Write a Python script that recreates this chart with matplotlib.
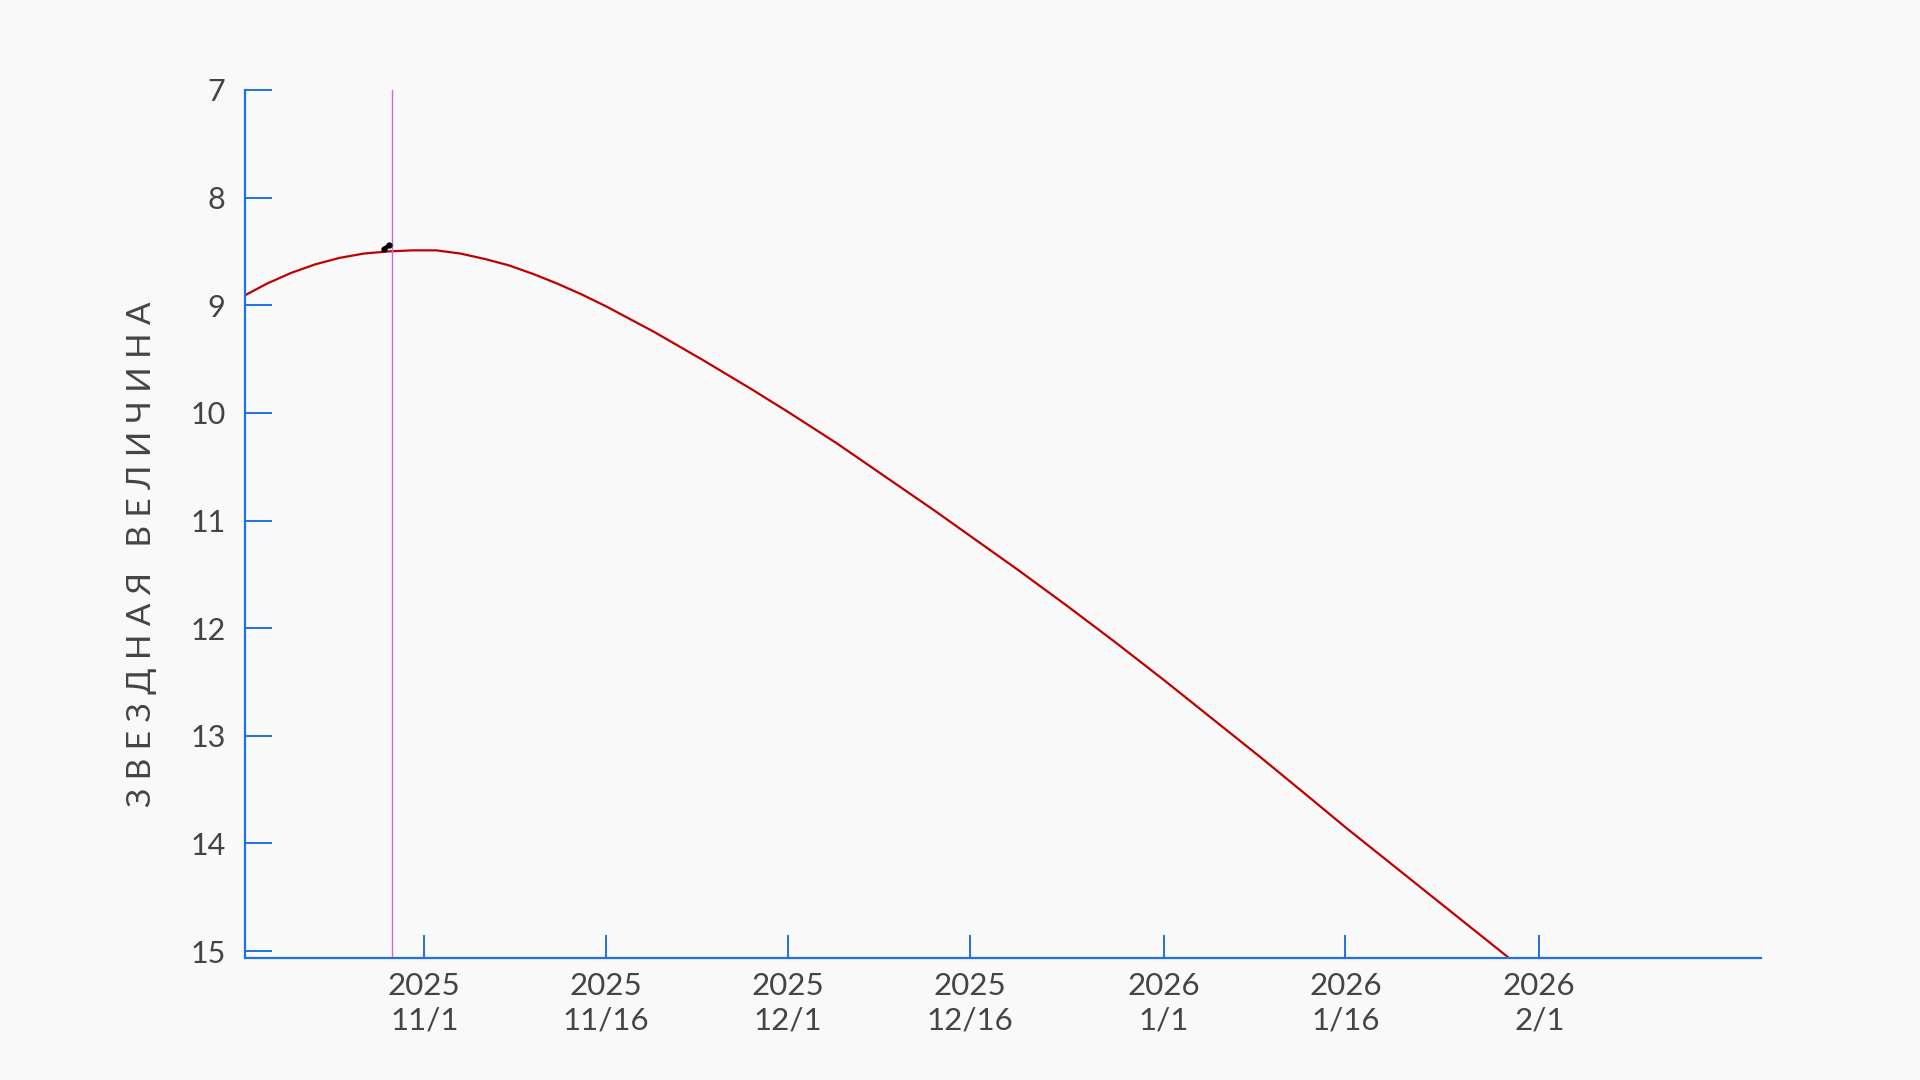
import datetime as dt

import matplotlib
matplotlib.use("Agg")
import matplotlib.dates as mdates
import matplotlib.pyplot as plt
from matplotlib.ticker import FixedLocator, FuncFormatter

plt.rcParams["font.family"] = ["Lato", "DejaVu Sans"]

BG = "#f9f9f9"
AXIS_BLUE = "#1f6fe5"
CURVE_RED = "#c00000"
NOW_MAGENTA = "#d466d8"
TEXT_GREY = "#444444"

# ── data ──────────────────────────────────────────────────────────────────
dates = [
    "2025-10-17", "2025-10-19", "2025-10-21", "2025-10-23", "2025-10-25",
    "2025-10-27", "2025-10-29", "2025-10-31", "2025-11-02", "2025-11-04",
    "2025-11-06", "2025-11-08", "2025-11-10", "2025-11-12", "2025-11-14",
    "2025-11-16", "2025-11-20", "2025-11-24", "2025-11-28", "2025-12-01",
    "2025-12-05", "2025-12-09", "2025-12-13", "2025-12-16", "2025-12-20",
    "2025-12-24", "2025-12-28", "2026-01-01", "2026-01-05", "2026-01-09",
    "2026-01-13", "2026-01-16", "2026-01-20", "2026-01-24", "2026-01-28",
    "2026-02-01",
]
magnitude = [
    8.92, 8.80, 8.70, 8.62, 8.56,
    8.52, 8.50, 8.49, 8.49, 8.52,
    8.57, 8.63, 8.71, 8.80, 8.90,
    9.01, 9.25, 9.51, 9.78, 9.99,
    10.28, 10.59, 10.90, 11.14, 11.46,
    11.79, 12.13, 12.48, 12.84, 13.20,
    13.57, 13.85, 14.21, 14.57, 14.93,
    15.29,
]

obs_dates = ["2025-10-28 16:00", "2025-10-29 03:00"]
obs_magnitude = [8.48, 8.44]

now_date = "2025-10-29 09:00"

tick_dates = ["2025-11-01", "2025-11-16", "2025-12-01", "2025-12-16",
              "2026-01-01", "2026-01-16", "2026-02-01"]
mag_ticks = [7, 8, 9, 10, 11, 12, 13, 14, 15]

x_start = "2025-10-17 05:00"
x_end = "2026-02-19 07:00"
y_faint, y_bright = 15.065, 7

ylabel = "З В Е З Д Н А Я   В Е Л И Ч И Н А"


def to_num(s):
    fmt = "%Y-%m-%d %H:%M" if " " in s else "%Y-%m-%d"
    return mdates.date2num(dt.datetime.strptime(s, fmt))


# ── figure ────────────────────────────────────────────────────────────────
fig = plt.figure(figsize=(19.2, 10.8), dpi=100, facecolor=BG)
ax = fig.add_axes([245 / 1920, 1 - 958 / 1080, (1761 - 245) / 1920, (958 - 90) / 1080])
ax.set_facecolor(BG)

ax.plot([to_num(d) for d in dates], magnitude, color=CURVE_RED, lw=1.6)
ax.axvline(to_num(now_date), color=NOW_MAGENTA, lw=1.0)
ax.plot([to_num(d) for d in obs_dates], obs_magnitude, color="black", lw=3,
        solid_capstyle="round", marker="o", ms=3.5)

ax.set_xlim(to_num(x_start), to_num(x_end))
ax.set_ylim(y_faint, y_bright)

ax.xaxis.set_major_locator(FixedLocator([to_num(d) for d in tick_dates]))
ax.xaxis.set_major_formatter(FuncFormatter(
    lambda v, _: f"{mdates.num2date(v).year}\n{mdates.num2date(v).month}/{mdates.num2date(v).day}"))
ax.set_yticks(mag_ticks)

for side in ("top", "right"):
    ax.spines[side].set_visible(False)
for side in ("left", "bottom"):
    ax.spines[side].set_color(AXIS_BLUE)
    ax.spines[side].set_linewidth(1.6)

ax.tick_params(axis="y", direction="in", length=19.5, width=1.4, color=AXIS_BLUE,
               pad=14, labelsize=22, labelcolor=TEXT_GREY)
ax.tick_params(axis="x", direction="in", length=16.5, width=1.4, color=AXIS_BLUE,
               pad=10, labelsize=22.5, labelcolor=TEXT_GREY)
for lbl in ax.get_xticklabels():
    lbl.set_linespacing(1.28)

fig.text(142 / 1920, 1 - 554 / 1080, ylabel, rotation=90, ha="center", va="center",
         fontsize=24, color=TEXT_GREY)

fig.savefig("out.png", dpi=100, facecolor=BG)
